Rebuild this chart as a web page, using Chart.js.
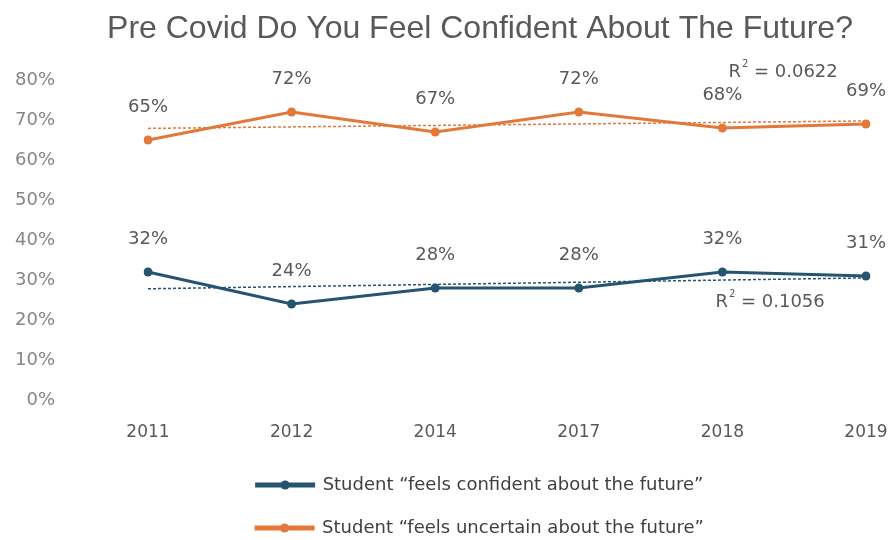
<!DOCTYPE html>
<html>
<head>
<meta charset="utf-8">
<script src="https://cdn.jsdelivr.net/npm/chart.js@4/dist/chart.umd.min.js"></script>
<style>
  html, body { margin: 0; padding: 0; background: #ffffff; }
  #wrap { width: 894px; height: 540px; }
</style>
</head>
<body>
<div id="wrap"><canvas id="c" width="894" height="540"></canvas></div>
<script>
// Survey years and the share of students giving each answer (%)
const years = ['2011', '2012', '2014', '2017', '2018', '2019'];
const confident = [32, 24, 28, 28, 32, 31];
const uncertain = [65, 72, 67, 72, 68, 69];
const seriesNames = [
  'Student \u201Cfeels confident about the future\u201D',
  'Student \u201Cfeels uncertain about the future\u201D'
];
const yMax = 80;
const yStep = 10;

const BLUE = '#255470';
const ORANGE = '#E2793A';
const TEXT = '#595959';
const FONT = 'DejaVu Sans';

// Least-squares linear trend over x = 1..n, with its R²
function linearFit(vals) {
  const n = vals.length;
  const xs = vals.map((_, i) => i + 1);
  const mx = xs.reduce((a, b) => a + b, 0) / n;
  const my = vals.reduce((a, b) => a + b, 0) / n;
  let sxy = 0, sxx = 0, syy = 0;
  for (let i = 0; i < n; i++) {
    sxy += (xs[i] - mx) * (vals[i] - my);
    sxx += (xs[i] - mx) ** 2;
    syy += (vals[i] - my) ** 2;
  }
  const slope = sxy / sxx;
  const icpt = my - slope * mx;
  return { fitted: xs.map(x => icpt + slope * x), r2: (sxy * sxy) / (sxx * syy) };
}

const fitConfident = linearFit(confident);
const fitUncertain = linearFit(uncertain);

// Layout of the plot box: y axis strip width and where its labels end
const PAD_LEFT = 72;
const Y_AXIS_W = 76;
const Y_LABEL_RIGHT = 55;
const Y_FONT_SIZE = 18;
const PLOT_RIGHT_GAP = 28;

// Widest y label, so the mirrored labels can be right-aligned at Y_LABEL_RIGHT
const measureCtx = document.createElement('canvas').getContext('2d');
measureCtx.font = Y_FONT_SIZE + 'px "' + FONT + '"';
let widestY = 0;
for (let v = 0; v <= yMax; v += yStep) {
  widestY = Math.max(widestY, measureCtx.measureText(v + '%').width);
}

// Value labels, R² captions and legend markers
const overlay = {
  id: 'overlay',
  afterDatasetsDraw(chart, args, opts) {
    const ctx = chart.ctx;
    ctx.save();
    ctx.fillStyle = TEXT;
    ctx.font = '18px "' + FONT + '"';
    ctx.textAlign = 'center';
    ctx.textBaseline = 'middle';
    [0, 1].forEach(di => {
      const meta = chart.getDatasetMeta(di);
      const vals = chart.data.datasets[di].data;
      meta.data.forEach((pt, i) => {
        ctx.fillText(vals[i] + '%', pt.x, pt.y - 33);
      });
    });

    const xs = chart.scales.x, ys = chart.scales.y;
    opts.r2.forEach(item => {
      const x = xs.getPixelForValue(item.index) + item.dx;
      const y = ys.getPixelForValue(item.value);
      ctx.textAlign = 'left';
      ctx.font = '18px "' + FONT + '"';
      ctx.fillText('R', x, y);
      const wR = ctx.measureText('R').width;
      ctx.font = '10px "' + FONT + '"';
      ctx.fillText('2', x + wR + 1, y - 8);
      const w2 = ctx.measureText('2').width;
      ctx.font = '18px "' + FONT + '"';
      ctx.fillText(' = ' + item.r2.toFixed(4), x + wR + w2 + 1, y);
    });
    ctx.restore();
  },
  afterDraw(chart, args, opts) {
    const lg = chart.legend;
    if (!lg || !lg.legendHitBoxes) return;
    const ctx = chart.ctx;
    ctx.save();
    lg.legendItems.forEach((item, i) => {
      const hb = lg.legendHitBoxes[i];
      ctx.fillStyle = chart.data.datasets[item.datasetIndex].borderColor;
      ctx.beginPath();
      ctx.arc(hb.left + opts.boxWidth / 2, hb.top + hb.height / 2, 4.5, 0, Math.PI * 2);
      ctx.fill();
    });
    ctx.restore();
  }
};

new Chart(document.getElementById('c'), {
  type: 'line',
  data: {
    labels: years,
    datasets: [
      {
        label: seriesNames[0], data: confident,
        borderColor: BLUE, backgroundColor: BLUE,
        borderWidth: 3, pointRadius: 4.5, pointBackgroundColor: BLUE, pointBorderWidth: 0,
        tension: 0, order: 0
      },
      {
        label: seriesNames[1], data: uncertain,
        borderColor: ORANGE, backgroundColor: ORANGE,
        borderWidth: 3, pointRadius: 4.5, pointBackgroundColor: ORANGE, pointBorderWidth: 0,
        tension: 0, order: 0
      },
      {
        label: 'trend confident', data: fitConfident.fitted,
        borderColor: BLUE, borderWidth: 1.5, borderDash: [3, 2],
        pointRadius: 0, order: -1
      },
      {
        label: 'trend uncertain', data: fitUncertain.fitted,
        borderColor: ORANGE, borderWidth: 1.5, borderDash: [3, 2],
        pointRadius: 0, order: -1
      }
    ]
  },
  options: {
    responsive: false,
    animation: false,
    layout: { padding: { left: PAD_LEFT, right: 6, top: 0, bottom: -7 } },
    plugins: {
      title: {
        display: true,
        text: 'Pre Covid Do You Feel Confident About The Future?',
        color: TEXT,
        font: { family: 'Liberation Sans', size: 32, weight: 'normal' },
        padding: { top: 10, bottom: 31.6 }
      },
      legend: {
        position: 'bottom',
        labels: {
          filter: item => item.datasetIndex < 2,
          boxWidth: 57, boxHeight: 2,
          color: '#404040',
          font: { family: FONT, size: 18 },
          padding: 25
        }
      },
      tooltip: { enabled: false },
      overlay: {
        boxWidth: 57,
        r2: [
          { index: 4, dx: -7, value: 24.5, r2: fitConfident.r2 },
          { index: 4, dx: 6, value: 82, r2: fitUncertain.r2 }
        ]
      }
    },
    scales: {
      x: {
        offset: false,
        afterFit(axis) {
          axis.height = 51;
          axis.paddingRight = PLOT_RIGHT_GAP;
        },
        grid: { display: false, drawTicks: false },
        border: { display: false },
        ticks: { color: TEXT, font: { family: FONT, size: 17 }, padding: 22 }
      },
      y: {
        min: 0, max: yMax,
        afterFit(axis) { axis.width = Y_AXIS_W; },
        grid: { display: false, drawTicks: false },
        border: { display: false },
        ticks: {
          stepSize: yStep,
          mirror: true,
          crossAlign: 'far',
          padding: Y_LABEL_RIGHT - (PAD_LEFT + Y_AXIS_W) - widestY,
          color: '#858585',
          font: { family: FONT, size: Y_FONT_SIZE },
          callback: v => v + '%'
        }
      }
    }
  },
  plugins: [overlay]
});
</script>
</body>
</html>
